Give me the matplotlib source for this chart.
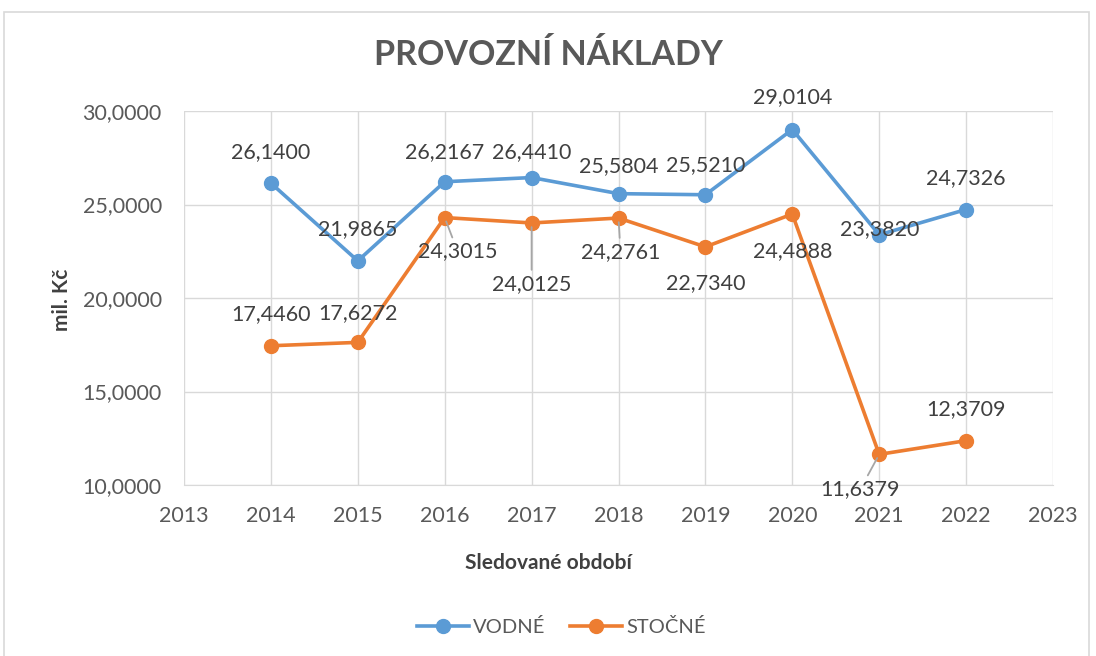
import matplotlib
matplotlib.use("Agg")
import matplotlib.pyplot as plt
from matplotlib.patches import Rectangle

years = [2014, 2015, 2016, 2017, 2018, 2019, 2020, 2021, 2022]
vodne = [26.1400, 21.9865, 26.2167, 26.4410, 25.5804, 25.5210, 29.0104, 23.3820, 24.7326]
stocne = [17.4460, 17.6272, 24.3015, 24.0125, 24.2761, 22.7340, 24.4888, 11.6379, 12.3709]
x_ticks = [2013, 2014, 2015, 2016, 2017, 2018, 2019, 2020, 2021, 2022, 2023]
y_ticks = [10, 15, 20, 25, 30]

title = "PROVOZNÍ NÁKLADY"
xlabel = "Sledované období"
ylabel = "mil. Kč"
names = ["VODNÉ", "STOČNÉ"]

# label offsets in pixels (dx, dy), and whether a leader line is drawn
v_off = [(0, 31), (0, 32), (0, 30), (0, 25), (0, 28), (0, 30), (0, 32), (0, 6), (0, 31)]
s_off = [(0, 32), (0, 29), (13, -34), (0, -61), (2, -34), (0, -36), (0, -37), (-19, -35), (0, 32)]
s_leader = [False, False, True, True, True, False, False, True, False]

blue = "#5B9BD5"
orange = "#ED7D31"
txt = "#595959"
lbl = "#404040"

plt.rcParams['font.family'] = ['Lato', 'DejaVu Sans']

fig = plt.figure(figsize=(10.96, 6.56), dpi=100)
fig.patches.append(Rectangle((4/1096, -0.01), (1089-4)/1096, 1 - 12/656 + 0.01,
                             transform=fig.transFigure, fill=False,
                             edgecolor="#d9d9d9", linewidth=1.2))
ax = fig.add_axes([184/1096, 1 - 485/656, (1053-184)/1096, (485-111)/656])

ax.plot(years, vodne, color=blue, lw=2.6, marker='o', ms=10, label=names[0], zorder=3)
ax.plot(years, stocne, color=orange, lw=2.6, marker='o', ms=10, label=names[1], zorder=3)

ax.set_xlim(2013, 2023)
ax.set_ylim(10, 30)
ax.set_xticks(x_ticks)
ax.set_yticks(y_ticks)
ax.set_yticklabels([f"{v:.4f}".replace('.', ',') for v in y_ticks])
ax.tick_params(length=0, labelsize=15.5, colors=txt)
ax.tick_params(axis='y', pad=16)
ax.tick_params(axis='x', pad=15)
ax.grid(True, color="#d9d9d9", lw=1)
for s in ['top', 'right', 'left']:
    ax.spines[s].set_visible(False)
ax.spines['bottom'].set_color("#d9d9d9")
ax.set_axisbelow(True)

def fmt(v):
    return f"{v:.4f}".replace('.', ',')

for x, y, (dx, dy) in zip(years, vodne, v_off):
    ax.annotate(fmt(y), (x, y), xytext=(dx, dy), textcoords='offset pixels',
                ha='center', va='center', fontsize=15.5, color=lbl, zorder=4)
for x, y, (dx, dy), ld in zip(years, stocne, s_off, s_leader):
    ap = dict(arrowstyle='-', color='#a6a6a6', lw=1.3, shrinkA=1, shrinkB=3) if ld else None
    ax.annotate(fmt(y), (x, y), xytext=(dx, dy), textcoords='offset pixels',
                ha='center', va='center', fontsize=15.5, color=lbl, zorder=4,
                arrowprops=ap)

fig.text(548/1096, 1 - 55/656, title, ha='center', va='center', fontsize=24.5,
         fontweight='bold', color=txt)
fig.text(548/1096, 1 - 563/656, xlabel, ha='center', va='center', fontsize=15,
         fontweight='bold', color=lbl)
fig.text(62/1096, 1 - 300/656, ylabel, ha='center', va='center', fontsize=15,
         fontweight='bold', color=lbl, rotation=90)

fig.legend(loc='center', bbox_to_anchor=(561/1096, 1 - 627/656), ncol=2, frameon=False,
           fontsize=14.5, labelcolor=txt, handlelength=2.6, handletextpad=0.2,
           columnspacing=1.2)

fig.savefig("out.png", dpi=100)
